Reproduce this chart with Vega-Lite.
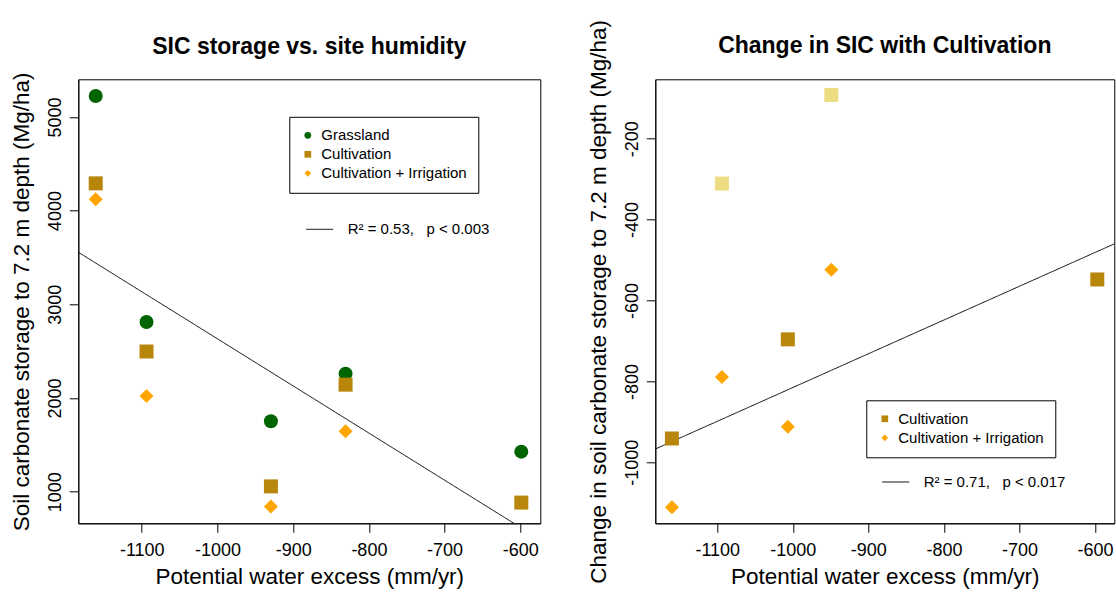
{
  "$schema": "https://vega.github.io/schema/vega-lite/v6.json",
  "background": "white",
  "padding": {"left": 9.3, "top": 18.3, "right": 2, "bottom": 2},
  "bounds": "flush",
  "spacing": 115,
  "resolve": {"scale": {"color": "independent", "shape": "independent", "strokeDash": "independent"}},
  "config": {
    "font": "Liberation Sans",
    "view": {"stroke": "black", "strokeWidth": 1},
    "axis": {
      "grid": false, "domainColor": "black", "tickColor": "black", "tickSize": 9,
      "labelFontSize": 18, "labelColor": "black", "labelFont": "Liberation Sans",
      "titleFontSize": 22.5, "titleFontWeight": "normal", "titleColor": "black", "titleFont": "Liberation Sans",
      "labelFlush": false, "labelOverlap": false
    },
    "title": {"fontSize": 23, "fontWeight": "bold", "font": "Liberation Sans", "color": "black", "anchor": "middle"},
    "legend": {"labelFont": "Liberation Sans", "labelFontSize": 15, "labelColor": "black"}
  },
  "datasets": {
    "left": [
      {"x": -1160.8, "y": 5224, "group": "Grassland"},
      {"x": -1093.7, "y": 2811, "group": "Grassland"},
      {"x": -929.4, "y": 1751, "group": "Grassland"},
      {"x": -830.8, "y": 2259, "group": "Grassland"},
      {"x": -598.7, "y": 1427, "group": "Grassland"},
      {"x": -1160.8, "y": 4291, "group": "Cultivation"},
      {"x": -1093.7, "y": 2496, "group": "Cultivation"},
      {"x": -929.4, "y": 1056, "group": "Cultivation"},
      {"x": -830.8, "y": 2142, "group": "Cultivation"},
      {"x": -598.7, "y": 883, "group": "Cultivation"},
      {"x": -1160.8, "y": 4121, "group": "Cultivation + Irrigation"},
      {"x": -1093.7, "y": 2021, "group": "Cultivation + Irrigation"},
      {"x": -929.4, "y": 840, "group": "Cultivation + Irrigation"},
      {"x": -830.8, "y": 1645, "group": "Cultivation + Irrigation"}
    ],
    "fitLeft": [
      {"x": -1183.8, "y": 3556, "fit": "R² = 0.53,\u00a0\u00a0 p < 0.003"},
      {"x": -608.5, "y": 662, "fit": "R² = 0.53,\u00a0\u00a0 p < 0.003"}
    ],
    "right": [
      {"x": -1093.8, "y": -311, "group": "Other"},
      {"x": -949, "y": -92, "group": "Other"},
      {"x": -1160, "y": -941, "group": "Cultivation"},
      {"x": -1006.6, "y": -696, "group": "Cultivation"},
      {"x": -597, "y": -548, "group": "Cultivation"},
      {"x": -1160, "y": -1111, "group": "Cultivation + Irrigation"},
      {"x": -1093.8, "y": -789, "group": "Cultivation + Irrigation"},
      {"x": -1006.6, "y": -912, "group": "Cultivation + Irrigation"},
      {"x": -949, "y": -524, "group": "Cultivation + Irrigation"}
    ],
    "fitRight": [
      {"x": -1182, "y": -967, "fit": "R² = 0.71,\u00a0\u00a0 p < 0.017"},
      {"x": -574.5, "y": -460, "fit": "R² = 0.71,\u00a0\u00a0 p < 0.017"}
    ]
  },
  "hconcat": [
    {
      "width": 462, "height": 444,
      "title": {"text": "SIC storage vs. site humidity", "frame": "group", "baseline": "alphabetic", "offset": -4.8},
      "layer": [
        {
          "data": {"name": "fitLeft"},
          "mark": {"type": "line", "color": "black", "strokeWidth": 1, "clip": true},
          "encoding": {
            "x": {"field": "x", "type": "quantitative", "scale": {"domain": [-1183.8, -573.6], "nice": false, "zero": false},
              "axis": {"values": [-1100, -1000, -900, -800, -700, -600], "labelExpr": "toString(datum.value)", "title": "Potential water excess (mm/yr)", "labelPadding": 9.5, "titlePadding": 6}},
            "y": {"field": "y", "type": "quantitative", "scale": {"domain": [662, 5402], "nice": false, "zero": false},
              "axis": {"values": [1000, 2000, 3000, 4000, 5000], "labelExpr": "toString(datum.value)", "labelAngle": -90, "labelAlign": "center", "labelBaseline": "bottom", "labelPadding": 5, "title": "Soil carbonate storage to 7.2 m depth (Mg/ha)", "titlePadding": 13}},
            "strokeDash": {"field": "fit", "type": "nominal", "scale": {"range": [[1, 0]]},
              "legend": {"orient": "none", "legendX": 227.4, "legendY": 136, "title": null, "symbolSize": 729, "symbolStrokeColor": "black", "symbolStrokeWidth": 1, "padding": 0, "labelOffset": 14}}
          }
        },
        {
          "data": {"name": "left"},
          "mark": {"type": "point", "filled": true, "opacity": 1, "size": 196},
          "encoding": {
            "x": {"field": "x", "type": "quantitative", "scale": {"domain": [-1183.8, -573.6], "nice": false, "zero": false}},
            "y": {"field": "y", "type": "quantitative", "scale": {"domain": [662, 5402], "nice": false, "zero": false}},
            "color": {"field": "group", "type": "nominal",
              "scale": {"domain": ["Grassland", "Cultivation", "Cultivation + Irrigation"], "range": ["#006400", "#B8860B", "#FFA500"]},
              "legend": {"orient": "none", "legendX": 211, "legendY": 37.5, "title": null, "strokeColor": "black", "padding": 11, "symbolSize": 45, "rowPadding": 3, "labelOffset": 6, "symbolOpacity": 1}},
            "shape": {"field": "group", "type": "nominal",
              "scale": {"domain": ["Grassland", "Cultivation", "Cultivation + Irrigation"], "range": ["circle", "square", "diamond"]}}
          }
        }
      ]
    },
    {
      "width": 459, "height": 444,
      "title": {"text": "Change in SIC with Cultivation", "frame": "group", "baseline": "alphabetic", "offset": -56.8},
      "layer": [
        {
          "data": {"name": "fitRight"},
          "mark": {"type": "line", "color": "black", "strokeWidth": 1, "clip": true},
          "encoding": {
            "x": {"field": "x", "type": "quantitative", "scale": {"domain": [-1182, -574.5], "nice": false, "zero": false},
              "axis": {"values": [-1100, -1000, -900, -800, -700, -600], "labelExpr": "toString(datum.value)", "title": "Potential water excess (mm/yr)", "labelPadding": 9.5, "titlePadding": 6}},
            "y": {"field": "y", "type": "quantitative", "scale": {"domain": [-1150.6, -53.3], "nice": false, "zero": false},
              "axis": {"values": [-1000, -800, -600, -400, -200], "labelExpr": "toString(datum.value)", "labelAngle": -90, "labelAlign": "center", "labelBaseline": "bottom", "labelPadding": 5, "title": "Change in soil carbonate storage to 7.2 m depth (Mg/ha)", "titlePadding": 13}},
            "strokeDash": {"field": "fit", "type": "nominal", "scale": {"range": [[1, 0]]},
              "legend": {"orient": "none", "legendX": 226.4, "legendY": 388.7, "title": null, "symbolSize": 729, "symbolStrokeColor": "black", "symbolStrokeWidth": 1, "padding": 0, "labelOffset": 14}}
          }
        },
        {
          "data": {"name": "right"},
          "mark": {"type": "point", "filled": true, "opacity": 1, "size": 196},
          "encoding": {
            "x": {"field": "x", "type": "quantitative", "scale": {"domain": [-1182, -574.5], "nice": false, "zero": false}},
            "y": {"field": "y", "type": "quantitative", "scale": {"domain": [-1150.6, -53.3], "nice": false, "zero": false}},
            "color": {"field": "group", "type": "nominal",
              "scale": {"domain": ["Cultivation", "Cultivation + Irrigation", "Other"], "range": ["#B8860B", "#FFA500", "#EEDC82"]},
              "legend": {"orient": "none", "legendX": 211, "legendY": 321, "title": null, "values": ["Cultivation", "Cultivation + Irrigation"], "strokeColor": "black", "padding": 11, "symbolSize": 45, "rowPadding": 3, "labelOffset": 6, "symbolOpacity": 1}},
            "shape": {"field": "group", "type": "nominal",
              "scale": {"domain": ["Cultivation", "Cultivation + Irrigation", "Other"], "range": ["square", "diamond", "square"]}}
          }
        }
      ]
    }
  ]
}
